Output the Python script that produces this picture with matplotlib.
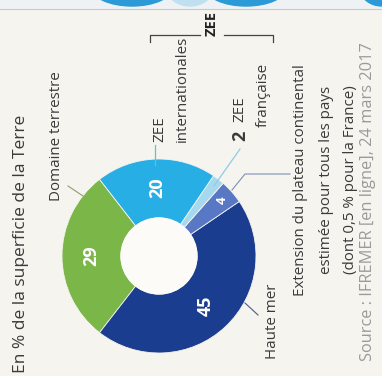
import numpy as np
import matplotlib
matplotlib.use("Agg")
import matplotlib.pyplot as plt
from matplotlib.patches import Ellipse, Rectangle

plt.rcParams['font.family'] = ['Open Sans', 'DejaVu Sans']

# -- data (% of Earth's surface)
parts = ['Domaine terrestre', 'Haute mer', 'Extension plateau', 'ZEE française', 'ZEE internationales']
values = [29, 45, 4, 2, 20]
shown = ['29', '45', '4', '', '20']
colors = ['#7ab648', '#1b3d8f', '#5877c4', '#a6d9f0', '#27afe5']
label_r = [0.70, 0.70, 0.87, 0.0, 0.70]

bg = '#f6f4ee'
txt = '#3a3a3a'
fs = 10.9

W, H = 382, 376
fig = plt.figure(figsize=(W / 100, H / 100), dpi=100, facecolor=bg)
ax = fig.add_axes([0, 0, 1, 1])
ax.set_facecolor(bg)

cx, cy, R, r_in = 159, 256, 97, 38

# pie in pixel coords, y axis flipped later -> clockwise in data = counterclockwise on screen
wedges, _ = ax.pie(values, colors=colors, center=(cx, cy), radius=R,
                   startangle=-127.8, counterclock=False,
                   wedgeprops=dict(width=R - r_in, edgecolor=bg, linewidth=0.6))
hole = plt.Circle((cx, cy), r_in, color='#fcfbf8', zorder=3)
ax.add_patch(hole)

for w, s, f in zip(wedges, shown, label_r):
    if not s:
        continue
    a = np.deg2rad((w.theta1 + w.theta2) / 2)
    x = cx + f * R * np.cos(a)
    y = cy + f * R * np.sin(a)
    ax.text(x, y, s, color='white', fontsize=13 if len(s) > 1 else 9.5,
            fontweight='bold', rotation=90, ha='center', va='center', zorder=4)

# top strip (piece of the page above)
ax.add_patch(Rectangle((0, 0), W, 8, color='#eef2f4', zorder=1))
for ex, ew, ec in [(132, 80, '#2b9ad6'), (190, 46, '#bfe0f0'), (246, 80, '#2b9ad6'), (382, 44, '#2b9ad6')]:
    ax.add_patch(Ellipse((ex, -12), ew, 36, color=ec, zorder=1))
ax.plot([0, W], [8.5, 8.5], color='#c9c9c9', lw=0.8, zorder=2)

# title
ax.text(21, 373, 'En % de la superficie de la Terre', rotation=90, ha='center', va='bottom',
        fontsize=12.5, color=txt)

# Domaine terrestre
ax.text(56, 201, 'Domaine terrestre', rotation=90, ha='center', va='bottom', fontsize=fs, color=txt)
ax.plot([68, 83], [186, 196], color='#8aa070', lw=0.8)

# Haute mer
ax.text(273, 359, 'Haute mer', rotation=90, ha='center', va='bottom', fontsize=fs, color=txt)
ax.plot([245, 258], [303, 315], color='#4a5a8c', lw=0.8)

# ZEE internationales
ax.text(160, 142, 'ZEE', rotation=90, ha='center', va='bottom', fontsize=fs, color=txt)
ax.text(182, 142, 'internationales', rotation=90, ha='center', va='bottom', fontsize=fs, color=txt)
ax.plot([155, 155], [145, 165], color='#5bbfe8', lw=0.9)

# 2 ZEE française
ax.text(240, 141, '2', rotation=90, ha='center', va='bottom', fontsize=13, fontweight='bold', color=txt)
ax.text(240, 122, 'ZEE', rotation=90, ha='center', va='bottom', fontsize=fs, color=txt)
ax.text(263, 127, 'française', rotation=90, ha='center', va='bottom', fontsize=fs, color=txt)
ax.plot([240, 214], [149, 186], color='#8fcbe8', lw=0.9)

# bracket ZEE
ax.plot([150, 150, 200], [42, 35, 35], color='#444444', lw=0.9)
ax.plot([224, 273, 273], [35, 35, 42], color='#444444', lw=0.9)
ax.text(212, 23, 'ZEE', rotation=90, ha='center', va='center', fontsize=10.5, fontweight='bold', color='#222222')

# extension du plateau
ax.plot([232, 245, 290], [190, 174, 174], color='#7f8fb5', lw=0.8)
ext_lines = ['Extension du plateau continental', 'estimée pour tous les pays',
             '(dont 0,5 % pour la France)']
for xx, line in zip([300, 327, 350], ext_lines):
    ax.text(xx, 180, line, rotation=90, ha='center', va='center', fontsize=fs, color=txt)

# source
ax.text(368, 361, 'Source : IFREMER [en ligne], 24 mars 2017', rotation=90, ha='center', va='bottom',
        fontsize=11.8, color='#9a9a9a')

ax.set_xlim(0, W)
ax.set_ylim(H, 0)
ax.set_aspect('equal')
ax.axis('off')

fig.savefig('out.png', dpi=100, facecolor=bg)
